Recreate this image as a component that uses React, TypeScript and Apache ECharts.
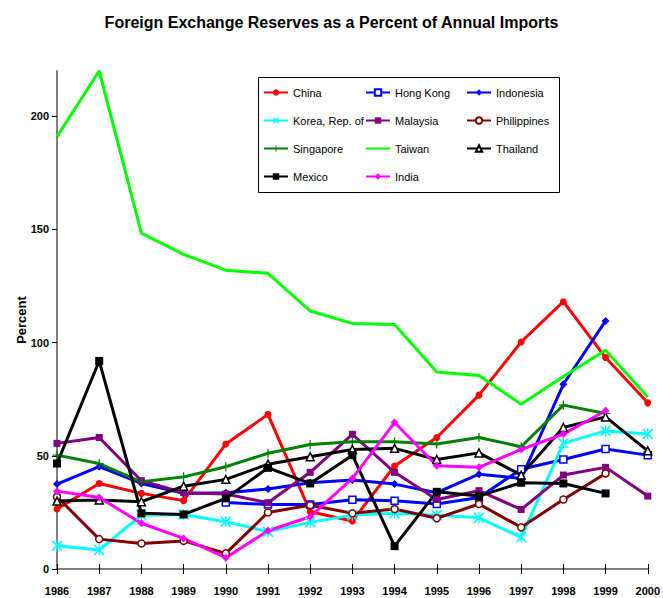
import React, { useEffect, useRef } from "react";
import * as echarts from "echarts";

const years = ["1986","1987","1988","1989","1990","1991","1992","1993","1994","1995","1996","1997","1998","1999","2000"];
const yTicks = [0, 50, 100, 150, 200];

const china = [26.5, 37.8, 33.4, 30.2, 55.2, 68.3, 25.3, 21.2, 45.5, 58.1, 76.8, 100.3, 118.1, 93.4, 73.4];
const hongKong = [null, null, null, null, 29.4, 28.5, 28.5, 30.6, 30.1, 28.7, 31.6, 44.1, 48.4, 53.0, 50.3];
const indonesia = [37.5, 45.2, 37.8, 33.4, 33.7, 35.3, 38.1, 39.3, 37.5, 33.7, 41.9, 40.0, 81.6, 109.6, null];
const korea = [10.3, 8.4, 23.8, 24.1, 20.9, 16.5, 20.6, 23.8, 24.6, 23.8, 22.6, 14.0, 55.5, 61.0, 59.6];
const malaysia = [55.5, 58.1, 39.0, 33.7, 33.1, 29.3, 42.7, 59.5, 42.7, 30.7, 34.6, 26.3, 41.5, 44.9, 32.2];
const philippines = [31.9, 13.2, 11.3, 12.4, 6.9, 25.0, 28.2, 24.6, 26.5, 22.4, 28.7, 18.4, 30.7, 42.2, null];
const singapore = [50.3, 46.6, 38.5, 40.7, 45.2, 51.1, 55.0, 56.2, 56.2, 55.2, 58.1, 54.0, 72.4, 68.7, null];
const taiwan = [191, 220, 148.4, 139, 132, 130.6, 114, 108.5, 108, 87, 85.5, 72.8, 85, 96.6, 76];
const thailand = [30.0, 30.5, 29.7, 36.6, 39.6, 46.3, 49.6, 52.8, 53.3, 48.4, 51.3, 41.5, 62.5, 67.2, 52.2];
const mexico = [46.6, 91.9, 24.6, 24.1, 31.2, 44.7, 37.8, 50.3, 10.1, 34.1, 32.2, 38.1, 37.8, 33.4, null];
const india = [34.4, 31.6, 20.2, 13.5, 5.0, 16.9, 23.1, 40.0, 64.7, 45.6, 44.9, 52.8, 59.6, 69.9, null];

const FONT = "'Liberation Sans', Arial, sans-serif";

const STAR = "path://M0,1 L1,0 L5,4 L9,0 L10,1 L6,5 L10,9 L9,10 L5,6 L1,10 L0,9 L4,5 Z M4.4,0 L5.6,0 L5.6,10 L4.4,10 Z";
const PLUS = "path://M4.3,0 L5.7,0 L5.7,4.3 L10,4.3 L10,5.7 L5.7,5.7 L5.7,10 L4.3,10 L4.3,5.7 L0,5.7 L0,4.3 L4.3,4.3 Z";

type Def = {
  name: string;
  data: (number | null)[];
  color: string;
  symbol: string;
  size: number;
  open?: boolean;
};

const defs: Def[] = [
  { name: "China", data: china, color: "#FF0000", symbol: "circle", size: 7 },
  { name: "Hong Kong", data: hongKong, color: "#0000FF", symbol: "rect", size: 7, open: true },
  { name: "Indonesia", data: indonesia, color: "#0000FF", symbol: "diamond", size: 8 },
  { name: "Korea, Rep. of", data: korea, color: "#00FFFF", symbol: STAR, size: 11 },
  { name: "Malaysia", data: malaysia, color: "#800080", symbol: "rect", size: 7 },
  { name: "Philippines", data: philippines, color: "#800000", symbol: "circle", size: 7, open: true },
  { name: "Singapore", data: singapore, color: "#008000", symbol: PLUS, size: 9 },
  { name: "Taiwan", data: taiwan, color: "#00FF00", symbol: "none", size: 0 },
  { name: "Thailand", data: thailand, color: "#000000", symbol: "triangle", size: 8, open: true },
  { name: "Mexico", data: mexico, color: "#000000", symbol: "rect", size: 8 },
  { name: "India", data: india, color: "#FF00FF", symbol: "diamond", size: 8 },
];

const legendCols = [
  ["China", "Korea, Rep. of", "Singapore", "Mexico"],
  ["Hong Kong", "Malaysia", "Taiwan", "India"],
  ["Indonesia", "Philippines", "Thailand"],
];
const legendLefts = [263, 365, 466];

export default function App() {
  const ref = useRef<HTMLDivElement>(null);
  useEffect(() => {
    if (!ref.current) return;
    const chart = echarts.init(ref.current, null, { renderer: "svg" });
    const series = defs.map((d) => ({
      name: d.name,
      type: "line",
      data: d.data,
      symbol: d.symbol,
      symbolSize: d.size,
      showSymbol: d.symbol !== "none",
      connectNulls: false,
      lineStyle: { color: d.color, width: 3 },
      itemStyle: d.open
        ? { color: "#FFFFFF", borderColor: d.color, borderWidth: 1.5 }
        : { color: d.color, borderWidth: 0 },
      emphasis: { disabled: true },
      z: 2,
    }));
    chart.setOption({
      animation: false,
      backgroundColor: "#FFFFFF",
      title: {
        text: "Foreign Exchange Reserves as a Percent of Annual Imports",
        left: "center",
        top: 9,
        textStyle: { fontFamily: FONT, fontSize: 16, fontWeight: "bold", color: "#000" },
      },
      legend: legendCols.map((col, i) => ({
        orient: "vertical",
        left: legendLefts[i],
        top: 87,
        padding: 0,
        itemWidth: 24,
        itemHeight: 8,
        itemGap: 17,
        data: col.map((n) =>
          n === "Taiwan"
            ? { name: n, itemStyle: { color: "rgba(0,0,0,0)", borderWidth: 0, opacity: 0 } }
            : { name: n }
        ),
        selectedMode: false,
        textStyle: { fontFamily: FONT, fontSize: 11, color: "#000" },
      })),
      graphic: [
        {
          type: "rect",
          shape: { x: 258.5, y: 77.5, width: 301, height: 115 },
          style: { fill: "none", stroke: "#000", lineWidth: 1 },
          z: 0,
        },
      ],
      grid: { left: 57, right: 10, top: 71, bottom: 29, containLabel: false },
      xAxis: [
        {
          type: "category",
          data: years,
          boundaryGap: false,
          axisLine: { lineStyle: { color: "#808080", width: 2 } },
          axisTick: { show: true, length: 5, inside: false, lineStyle: { color: "#000", width: 1 } },
          axisLabel: { fontFamily: FONT, fontSize: 11, fontWeight: "bold", color: "#000", margin: 16, interval: 0 },
          splitLine: { show: false },
        },
        {
          type: "category",
          data: years,
          boundaryGap: false,
          position: "bottom",
          axisLine: { show: false },
          axisTick: { show: true, length: 5, inside: true, lineStyle: { color: "#000", width: 1 } },
          axisLabel: { show: false },
          splitLine: { show: false },
        },
      ],
      yAxis: {
        type: "value",
        min: 0,
        max: 220,
        interval: 50,
        name: "Percent",
        nameLocation: "middle",
        nameGap: 29,
        nameRotate: 90,
        nameMoveOverlap: false,
        nameTextStyle: { fontFamily: FONT, fontSize: 13, fontWeight: "bold", color: "#000" },
        axisLine: { show: true, lineStyle: { color: "#808080", width: 2 } },
        axisTick: { show: true, length: 5, customValues: yTicks, lineStyle: { color: "#000", width: 1 } },
        axisLabel: { fontFamily: FONT, fontSize: 11, fontWeight: "bold", color: "#000", margin: 8, customValues: yTicks },
        splitLine: { show: false },
      },
      series,
    });
    return () => chart.dispose();
  }, []);
  return (
    <div
      ref={ref}
      style={{ position: "absolute", left: 0, top: 0, width: 663, height: 598 }}
    />
  );
}
